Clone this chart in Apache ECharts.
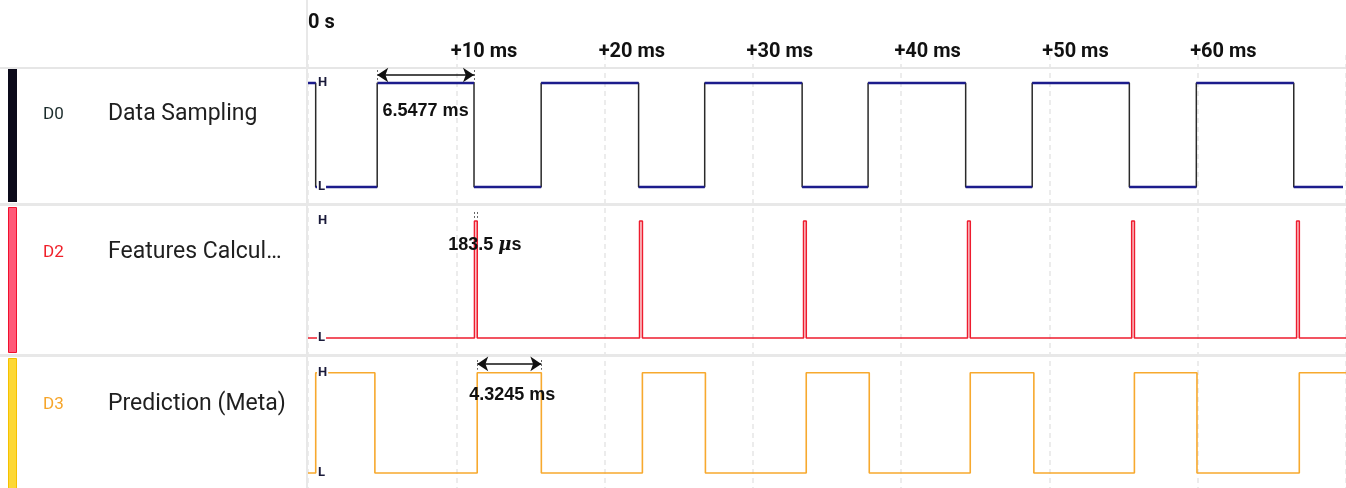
<!DOCTYPE html>
<html>
<head>
<meta charset="utf-8">
<script src="https://cdn.jsdelivr.net/npm/echarts@6/dist/echarts.min.js"></script>
<style>
  html, body { margin: 0; padding: 0; background: #fff; }
  #chart { width: 1346px; height: 488px; }
</style>
</head>
<body>
<div id="chart"></div>
<script>
// Time axis (milliseconds) and its tick labels
const timeMax = 70;
const tickStep = 10;
const tickLabels = ['0 s', '+10 ms', '+20 ms', '+30 ms', '+40 ms', '+50 ms', '+60 ms', ''];

// Channels
const channelIds = ['D0', 'D2', 'D3'];
const channelNames = ['Data Sampling', 'Features Calcul\u2026', 'Prediction (Meta)'];
const channelColors = ['#1b2b2b', '#f0202a', '#f6a52a'];

// Logic levels: starting level and the times (ms) at which each channel toggles
const d0Initial = 1;
const d0Edges = [0.52, 4.68, 11.2277, 15.77, 22.36, 26.83, 33.42, 37.88, 44.48, 48.98, 55.55, 60.08, 66.67];
const d2Initial = 0;
const d2Edges = [11.2277, 11.4112, 22.36, 22.55, 33.42, 33.6, 44.48, 44.66, 55.55, 55.73, 66.67, 66.85];
const d3Initial = 0;
const d3Edges = [0.52, 4.51, 11.4112, 15.7357, 22.55, 26.8, 33.6, 37.85, 44.66, 48.95, 55.73, 59.95, 66.85];

// Measured intervals (indices into the edge lists)
const d0Measure = [1, 2];
const d2Measure = [0, 1];
const d3Measure = [2, 3];

function stepPoints(initial, edges, end) {
  const pts = [[0, initial]];
  let lvl = initial;
  for (const t of edges) {
    pts.push([t, lvl]);
    lvl = 1 - lvl;
    pts.push([t, lvl]);
  }
  pts.push([end, lvl]);
  return pts;
}
function levelRuns(initial, edges, end) {
  const pts = [];
  let lvl = initial, a = 0;
  for (const t of edges.concat([end])) {
    pts.push([a, lvl], [t, lvl], ['-', '-']);
    a = t;
    lvl = 1 - lvl;
  }
  return pts;
}

const annFont = 'Liberation Sans';
function arrowLine(t0, t1, y) {
  return [{ coord: [t0, y], symbol: 'arrow' }, { coord: [t1, y], symbol: 'arrow' }];
}
function cursorTick(t, y0, y1) {
  return [
    { coord: [t, y0], symbol: 'none', lineStyle: { type: [2, 2], color: '#666', width: 1 } },
    { coord: [t, y1], symbol: 'none' }
  ];
}
function textPoint(t, y, text, dx) {
  return {
    coord: [t, y], symbol: 'circle', symbolSize: 1,
    itemStyle: { color: 'rgba(0,0,0,0)' },
    label: { show: true, position: 'inside', formatter: text, offset: [dx, 0] }
  };
}

const d0Start = d0Edges[d0Measure[0]], d0End = d0Edges[d0Measure[1]];
const d2Start = d2Edges[d2Measure[0]], d2End = d2Edges[d2Measure[1]];
const d3Start = d3Edges[d3Measure[0]], d3End = d3Edges[d3Measure[1]];
const d0Text = (d0End - d0Start).toFixed(4) + ' ms';
const d2Text = '{n|' + ((d2End - d2Start) * 1000).toFixed(1) + ' }{u|\u03bc}{n|s}';
const d3Text = (d3End - d3Start).toFixed(4) + ' ms';

// Each lane spans a little beyond the L/H levels so cursors and labels fit inside it
const yLo = -0.15, yHi = 1.15;
function lane(hPix, lPix) {
  const unit = lPix - hPix;
  return { left: 308, right: 0, top: hPix - (yHi - 1) * unit, height: (yHi - yLo) * unit };
}
const grids = [
  lane(83, 187),
  lane(221, 338),
  lane(373, 475),
  { left: 308, right: 0, top: 55, bottom: 0 }
];

function hiddenX(i) {
  return { gridIndex: i, type: 'value', min: 0, max: timeMax, interval: tickStep, show: false };
}
function levelY(i, labelColor) {
  return {
    gridIndex: i, type: 'value', min: yLo, max: yHi, z: 10,
    axisLine: { show: false }, axisTick: { show: false }, splitLine: { show: false },
    axisLabel: {
      inside: true, margin: 9, fontSize: 13, fontWeight: 'bold', fontFamily: 'Roboto', color: labelColor,
      backgroundColor: '#fff', padding: [0, 1, 0, 1],
      customValues: [0, 1],
      formatter: v => (v === 1 ? 'H' : v === 0 ? 'L' : '')
    }
  };
}

const tickFont = { fontSize: 20, fontWeight: 'bold', fontFamily: 'Roboto', color: '#111' };

const option = {
  animation: false,
  grid: grids,
  xAxis: [
    {
      gridIndex: 0, type: 'value', min: 0, max: timeMax, interval: tickStep,
      position: 'top', offset: grids[0].top - 68,
      axisLine: { show: false }, axisTick: { show: false }, splitLine: { show: false },
      axisLabel: {
        margin: 6, align: 'left',
        formatter: v => {
          const s = tickLabels[Math.round(v / tickStep)] || '';
          if (!s) return '';
          return v === 0 ? '{z|' + s + '}' : '{t|' + s + '}';
        },
        rich: {
          z: Object.assign({ padding: [0, 0, 29, 0] }, tickFont),
          t: Object.assign({ padding: [0, 0, 0, -5] }, tickFont)
        }
      }
    },
    hiddenX(1),
    hiddenX(2),
    {
      gridIndex: 3, type: 'value', min: 0, max: timeMax, interval: tickStep,
      axisLine: { show: false }, axisTick: { show: false }, axisLabel: { show: false },
      splitLine: { show: true, lineStyle: { color: '#e6e6e6', width: 1.5, type: [5, 4] } }
    }
  ],
  yAxis: [
    levelY(0, '#1a1a3a'),
    levelY(1, '#1a1a3a'),
    levelY(2, '#1a1a3a'),
    { gridIndex: 3, type: 'value', min: 0, max: 1, show: false }
  ],
  graphic: [
    // panel separators
    { type: 'rect', shape: { x: 0, y: 67, width: 1346, height: 2 }, style: { fill: '#e6e6e6' }, z: 1 },
    { type: 'rect', shape: { x: 0, y: 203, width: 1346, height: 3 }, style: { fill: '#e8e8e8' }, z: 1 },
    { type: 'rect', shape: { x: 0, y: 354, width: 1346, height: 3 }, style: { fill: '#e8e8e8' }, z: 1 },
    { type: 'rect', shape: { x: 306, y: 0, width: 2, height: 488 }, style: { fill: '#e8e8e8' }, z: 1 },
    // channel colour bars
    { type: 'rect', shape: { x: 8, y: 69, width: 9, height: 133 }, style: { fill: '#0c0a1a' }, z: 2 },
    { type: 'rect', shape: { x: 8.5, y: 207.5, width: 8, height: 145 }, style: { fill: '#ff5a78', stroke: '#f0102e', lineWidth: 1 }, z: 2 },
    { type: 'rect', shape: { x: 8.5, y: 358.5, width: 8, height: 130 }, style: { fill: '#fdd835', stroke: '#f5c000', lineWidth: 1 }, z: 2 },
    // channel ids and names
    { type: 'text', x: 43, y: 115, style: { text: channelIds[0], fill: channelColors[0], font: '17px Roboto', verticalAlign: 'middle' }, z: 3 },
    { type: 'text', x: 43, y: 253, style: { text: channelIds[1], fill: channelColors[1], font: '17px Roboto', verticalAlign: 'middle' }, z: 3 },
    { type: 'text', x: 43, y: 405, style: { text: channelIds[2], fill: channelColors[2], font: '17px Roboto', verticalAlign: 'middle' }, z: 3 },
    { type: 'text', x: 108, y: 114, style: { text: channelNames[0], fill: '#1f1f1f', font: '23px Roboto', verticalAlign: 'middle' }, z: 3 },
    { type: 'text', x: 108, y: 252, style: { text: channelNames[1], fill: '#1f1f1f', font: '23px Roboto', verticalAlign: 'middle' }, z: 3 },
    { type: 'text', x: 108, y: 404, style: { text: channelNames[2], fill: '#1f1f1f', font: '23px Roboto', verticalAlign: 'middle' }, z: 3 }
  ],
  series: [
    // D0: edges in black, levels in navy
    {
      type: 'line', xAxisIndex: 0, yAxisIndex: 0, data: stepPoints(d0Initial, d0Edges, timeMax),
      showSymbol: false, clip: false, lineStyle: { color: '#2a2a2a', width: 1.5 }, z: 3,
      markLine: {
        silent: true, symbolSize: 11, label: { show: false },
        lineStyle: { color: '#111', width: 1.5, type: 'solid' },
        data: [arrowLine(d0Start, d0End, 1.077), cursorTick(d0Start, 1.125, 1.0), cursorTick(d0End, 1.125, 1.0)]
      },
      markPoint: {
        silent: true,
        label: { color: '#111', fontSize: 18, fontWeight: 'bold', fontFamily: annFont },
        data: [textPoint((d0Start + d0End) / 2, 0.73, d0Text, 0)]
      }
    },
    {
      type: 'line', xAxisIndex: 0, yAxisIndex: 0, data: levelRuns(d0Initial, d0Edges, timeMax),
      showSymbol: false, clip: false, connectNulls: false, lineStyle: { color: '#1c1c8c', width: 2.5 }, z: 4
    },
    // D2: short calculation pulses
    {
      type: 'line', xAxisIndex: 1, yAxisIndex: 1, data: stepPoints(d2Initial, d2Edges, timeMax),
      showSymbol: false, clip: false, lineStyle: { color: '#ee1c2e', width: 1.6 }, z: 3,
      markLine: {
        silent: true, symbol: 'none', label: { show: false },
        data: [cursorTick(d2Start, 1.077, 1.026), cursorTick(d2End, 1.077, 1.026)]
      },
      markPoint: {
        silent: true,
        label: {
          color: '#111', fontSize: 18, fontWeight: 'bold', fontFamily: annFont,
          rich: {
            n: { fontSize: 18, fontWeight: 'bold', fontFamily: annFont, color: '#111' },
            u: { fontSize: 18, fontStyle: 'italic', fontFamily: 'DejaVu Serif', color: '#111' }
          }
        },
        data: [textPoint((d2Start + d2End) / 2, 0.795, d2Text, 9)]
      }
    },
    // D3: prediction output
    {
      type: 'line', xAxisIndex: 2, yAxisIndex: 2, data: stepPoints(d3Initial, d3Edges, timeMax),
      showSymbol: false, clip: false, lineStyle: { color: '#f7a92e', width: 1.6 }, z: 3,
      markLine: {
        silent: true, symbolSize: 11, label: { show: false },
        lineStyle: { color: '#111', width: 1.5, type: 'solid' },
        data: [arrowLine(d3Start, d3End, 1.088), cursorTick(d3Start, 1.127, 1.03), cursorTick(d3End, 1.127, 1.03)]
      },
      markPoint: {
        silent: true,
        label: { color: '#111', fontSize: 18, fontWeight: 'bold', fontFamily: annFont },
        data: [textPoint((d3Start + d3End) / 2, 0.775, d3Text, 3)]
      }
    }
  ]
};

const chart = echarts.init(document.getElementById('chart'), null, { renderer: 'canvas' });
chart.setOption(option);
</script>
</body>
</html>
